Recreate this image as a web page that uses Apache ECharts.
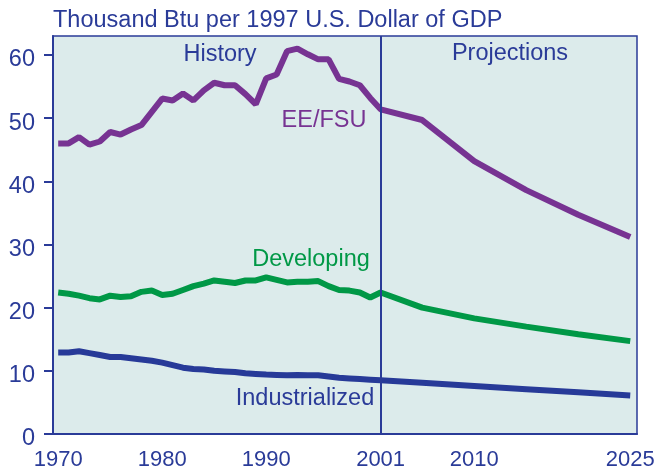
<!DOCTYPE html>
<html>
<head>
<meta charset="utf-8">
<script src="https://cdn.jsdelivr.net/npm/echarts@6/dist/echarts.min.js"></script>
<style>
  html, body { margin: 0; padding: 0; background: #fff; }
  #chart { width: 659px; height: 474px; }
</style>
</head>
<body>
<div id="chart"></div>
<script>
  // history years 1970..2001, then projection years
  var histYears = [1970, 1971, 1972, 1973, 1974, 1975, 1976, 1977, 1978, 1979,
    1980, 1981, 1982, 1983, 1984, 1985, 1986, 1987, 1988, 1989,
    1990, 1991, 1992, 1993, 1994, 1995, 1996, 1997, 1998, 1999, 2000, 2001];
  var projYears = [2005, 2010, 2015, 2020, 2025];

  var eefsuHist = [46.0, 46.0, 47.0, 45.8, 46.3, 47.8, 47.4, 48.2, 48.9, 51.0,
    53.1, 52.8, 53.9, 52.8, 54.4, 55.6, 55.2, 55.2, 53.8, 52.2,
    56.3, 56.9, 60.6, 61.0, 60.1, 59.3, 59.3, 56.2, 55.8, 55.2, 53.2, 51.4];
  var eefsuProj = [49.7, 43.2, 38.6, 34.7, 31.2];

  var developingHist = [22.4, 22.2, 21.9, 21.5, 21.3, 21.9, 21.7, 21.8, 22.5, 22.7,
    22.0, 22.2, 22.8, 23.4, 23.8, 24.3, 24.1, 23.9, 24.3, 24.3,
    24.8, 24.4, 24.0, 24.1, 24.1, 24.2, 23.4, 22.8, 22.7, 22.4, 21.6, 22.4];
  var developingProj = [20.0, 18.3, 17.0, 15.8, 14.7];

  var industHist = [12.9, 12.9, 13.1, 12.8, 12.5, 12.2, 12.2, 12.0, 11.8, 11.6,
    11.3, 10.9, 10.5, 10.3, 10.2, 10.0, 9.9, 9.8, 9.6, 9.5,
    9.4, 9.35, 9.3, 9.35, 9.3, 9.3, 9.1, 8.9, 8.8, 8.7, 8.6, 8.5];
  var industProj = [8.1, 7.6, 7.1, 6.6, 6.1];

  var xTickLabels = [1970, 1980, 1990, 2001, 2010, 2025];
  var yTicks = [0, 10, 20, 30, 40, 50, 60];
  var splitYear = 2001;

  var blue = '#2a3b98';
  var font = 'Liberation Sans, Arial, sans-serif';

  function pairs(hist, proj) {
    var out = [];
    for (var i = 0; i < histYears.length; i++) out.push([histYears[i], hist[i]]);
    for (var j = 0; j < projYears.length; j++) out.push([projYears[j], proj[j]]);
    return out;
  }

  function lineSeries(name, color, data) {
    return {
      name: name,
      type: 'line',
      data: data,
      symbol: 'none',
      silent: true,
      lineStyle: { color: color, width: 6, cap: 'butt' }
    };
  }

  function label(text, x, y, color, align) {
    return {
      type: 'text', x: x, y: y, z: 100,
      style: {
        text: text, fill: color, fontSize: 23.5, fontFamily: font,
        align: align || 'center', verticalAlign: 'middle'
      }
    };
  }

  var series = [
    lineSeries('Industrialized', '#273a98', pairs(industHist, industProj)),
    lineSeries('Developing', '#009846', pairs(developingHist, developingProj)),
    lineSeries('EE/FSU', '#773392', pairs(eefsuHist, eefsuProj))
  ];
  series[0].markLine = {
    silent: true,
    symbol: 'none',
    label: { show: false },
    lineStyle: { color: blue, width: 2, type: 'solid' },
    data: [{ xAxis: splitYear }]
  };

  var option = {
    animation: false,
    grid: {
      left: 53, top: 36, right: 22, bottom: 40,
      show: true,
      backgroundColor: '#dcebeb',
      borderColor: blue,
      borderWidth: 1.5
    },
    xAxis: {
      type: 'value',
      min: 1969.5,
      max: 2025.65,
      axisLine: { show: true, lineStyle: { color: blue, width: 2 } },
      axisTick: { show: false },
      splitLine: { show: false },
      axisLabel: {
        customValues: xTickLabels,
        color: blue, fontSize: 22, fontFamily: font, margin: 15,
        formatter: function (v) { return String(v); }
      }
    },
    yAxis: {
      type: 'value',
      min: 0,
      max: 63,
      axisLine: { show: true, lineStyle: { color: blue, width: 2 } },
      axisTick: {
        show: true, customValues: yTicks, length: 9,
        lineStyle: { color: blue, width: 2 }
      },
      splitLine: { show: false },
      axisLabel: {
        customValues: yTicks,
        color: blue, fontSize: 23.5, fontFamily: font, margin: 18,
        verticalAlign: 'top', lineHeight: 10
      }
    },
    series: series,
    graphic: [
      label('Thousand Btu per 1997 U.S. Dollar of GDP', 53, 21, blue, 'left'),
      label('History', 220, 55, blue),
      label('Projections', 510, 54, blue),
      label('EE/FSU', 324, 121, '#773392'),
      label('Developing', 311, 260, '#009846'),
      label('Industrialized', 305, 399, blue)
    ]
  };

  echarts.init(document.getElementById('chart')).setOption(option);
</script>
</body>
</html>
